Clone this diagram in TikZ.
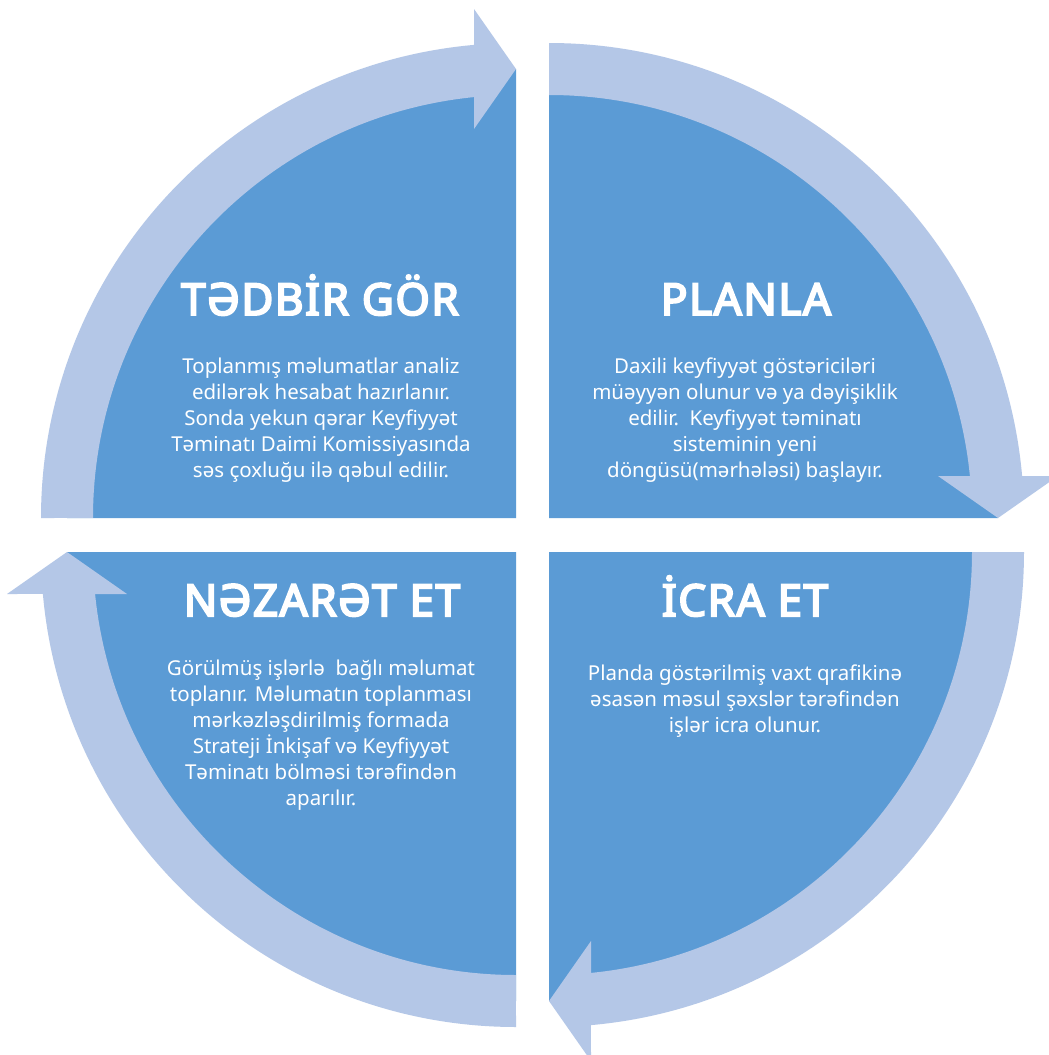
\documentclass[tikz,border=0pt]{standalone}
\usepackage{fontspec}
\setmainfont{Noto Sans}
\newfontfamily\titlefont{Noto Sans}[FakeBold=4.5, LetterSpace=3.5]
\definecolor{quadblue}{HTML}{5B9BD5}
\definecolor{ringblue}{HTML}{B4C7E7}
\tikzset{
  quadpic/.pic={\fill[quadblue] (0,0) -- (-449,0) arc[start angle=180,end angle=90,radius=449pt] -- cycle;},
  ringpic/.pic={\fill[ringblue] (-475,0) arc[start angle=180,end angle=95.07,radius=475pt]
      -- (-42,509) -- (0,449) -- (-42,389) -- (-42,420.91)
      arc[start angle=95.70,end angle=180,radius=423pt] -- cycle;},
  titletext/.style={text=white, font=\titlefont\fontsize{44}{54}\selectfont, anchor=base, inner sep=0pt},
  bodytext/.style={text=white, font=\fontsize{20.5}{26}\selectfont, align=center, anchor=north, inner sep=0pt},
}
\newcommand{\firstline}{\rule{0pt}{22pt}}
\begin{document}
\begin{tikzpicture}[x=1pt,y=1pt]
\fill[white] (0,0) rectangle (1049,-1055);
\useasboundingbox (0,0) rectangle (1049,-1055);
% quadrants
\pic (qtl) at (516,-518) {quadpic};
\pic[rotate=-90] (qtr) at (549,-518) {quadpic};
\pic[rotate=180] (qbr) at (549,-552) {quadpic};
\pic[rotate=90] (qbl) at (516,-552) {quadpic};
% ring arrows
\pic (rtl) at (516,-518) {ringpic};
\pic[rotate=-90] (rtr) at (549,-518) {ringpic};
\pic[rotate=180] (rbr) at (549,-552) {ringpic};
\pic[rotate=90] (rbl) at (516,-552) {ringpic};
% titles
\node[titletext] (ttl) at (320,-315) {TƏDBİR GÖR};
\node[titletext] (ttr) at (746,-315) {PLANLA};
\node[titletext] (tbl) at (322,-616) {NƏZARƏT ET};
\node[titletext] (tbr) at (745,-616) {İCRA ET};
% bodies
\node[bodytext] (btl) at (321,-351) {\firstline Toplanmış məlumatlar analiz\\edilərək hesabat hazırlanır.\\Sonda yekun qərar Keyfiyyət\\Təminatı Daimi Komissiyasında\\səs çoxluğu ilə qəbul edilir.};
\node[bodytext] (btr) at (745,-351) {\firstline Daxili keyfiyyət göstəriciləri\\müəyyən olunur və ya dəyişiklik\\edilir.\ \ Keyfiyyət təminatı\\sisteminin yeni\\döngüsü(mərhələsi) başlayır.};
\node[bodytext] (bbl) at (321,-653) {\firstline Görülmüş işlərlə\ \ bağlı məlumat\\toplanır. Məlumatın toplanması\\mərkəzləşdirilmiş formada\\Strateji İnkişaf və Keyfiyyət\\Təminatı bölməsi tərəfindən\\aparılır.};
\node[bodytext] (bbr) at (745,-658) {\firstline Planda göstərilmiş vaxt qrafikinə\\əsasən məsul şəxslər tərəfindən\\işlər icra olunur.};
\end{tikzpicture}
\end{document}
